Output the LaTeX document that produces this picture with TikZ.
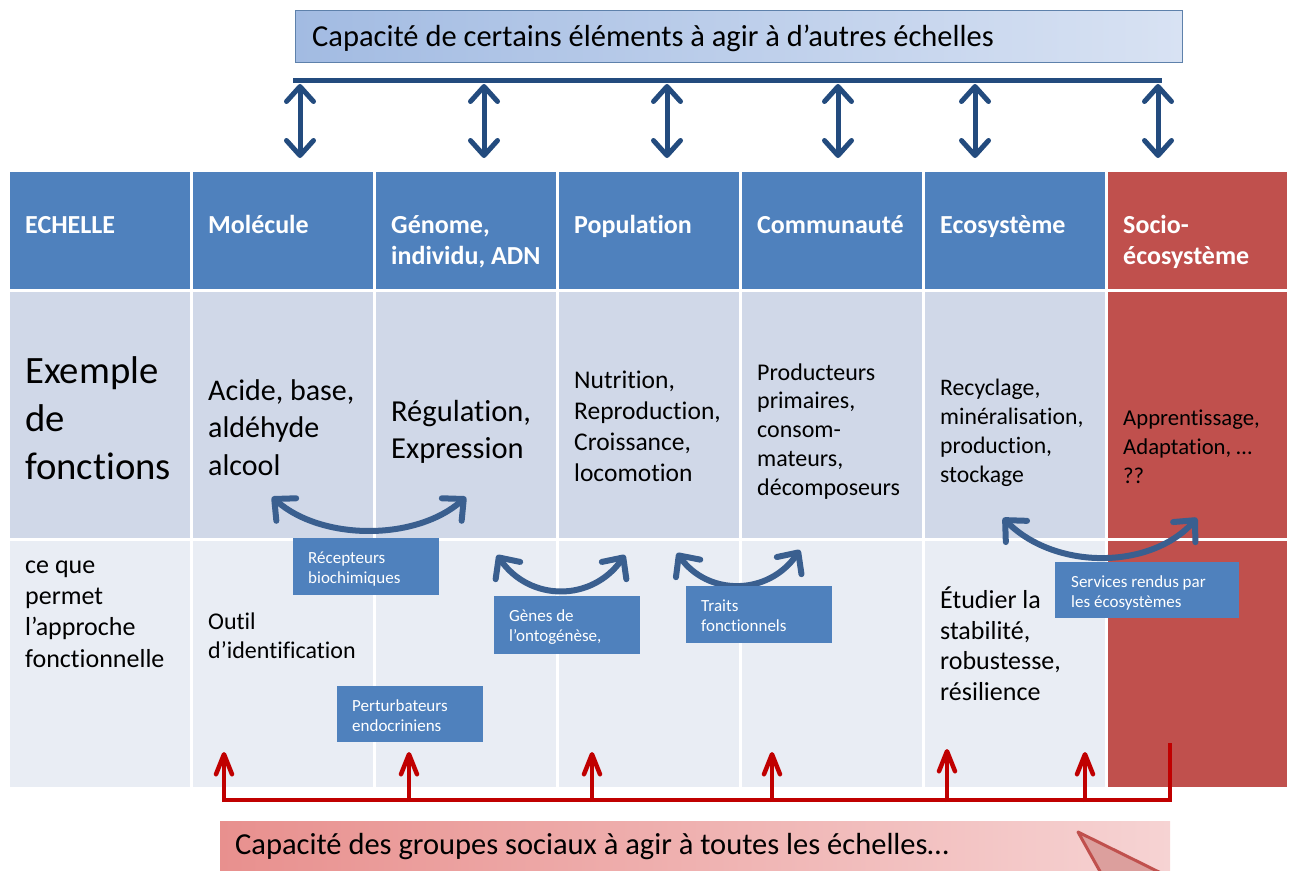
\documentclass[tikz,border=0pt]{standalone}
\usepackage{fontspec}
\setmainfont{Carlito}[Ligatures=NoCommon]
\usetikzlibrary{arrows.meta}
\definecolor{hdr}{HTML}{4F81BD}
\definecolor{rowA}{HTML}{D0D8E8}
\definecolor{rowB}{HTML}{E9EDF4}
\definecolor{socred}{HTML}{C0504D}
\definecolor{navy}{HTML}{234B7E}
\definecolor{curveblue}{HTML}{3A5F8F}
\definecolor{arrred}{HTML}{C00000}
\definecolor{topA}{HTML}{A2BBE2}
\definecolor{topB}{HTML}{D8E2F3}
\definecolor{botA}{HTML}{E8908E}
\definecolor{botB}{HTML}{F6D3D3}
\tikzset{
  htext/.style={anchor=base west, align=left, inner sep=0pt, text=white, font=\fontsize{26}{31}\selectfont\bfseries},
  btext/.style={anchor=base west, align=left, inner sep=0pt, text=black},
  tagbox/.style={fill=hdr, inner sep=0pt, anchor=north west, minimum width=#1, minimum height=57pt},
  tagtext/.style={anchor=base west, align=left, inner sep=0pt, text=white, font=\fontsize{17}{20.5}\selectfont},
  vbar/.style={line width=5pt, draw=navy, {Straight Barb[length=15pt,width=27pt,round]}-{Straight Barb[length=15pt,width=27pt,round]}},
  cbar/.style={line width=6pt, draw=curveblue, {Straight Barb[length=16pt,width=30pt,round]}-{Straight Barb[length=16pt,width=30pt,round]}},
  rbar/.style={line width=4.5pt, draw=arrred, -{Straight Barb[length=20pt,width=16pt,round]}},
}
\begin{document}
\begin{tikzpicture}[x=1pt,y=-1pt]
\useasboundingbox (0,0) rectangle (1295,870);
% top box
\shade[left color=topA, right color=topB, draw=hdr!70!gray, line width=1pt] (295,10) rectangle (1182,62);
\node[anchor=base west, inner sep=0pt, font=\fontsize{30.5}{36}\selectfont] (toptxt) at (312,46) {Capacité de certains éléments à agir à d’autres échelles};
% table columns
\foreach \x in {10,193,376,559,742,925}{
  \fill[hdr] (\x,172) rectangle ++(180,117);
  \fill[rowA] (\x,292) rectangle ++(180,246);
  \fill[rowB] (\x,541) rectangle ++(180,246);
}
\fill[socred] (1108,172) rectangle (1287,289);
\fill[socred] (1108,292) rectangle (1287,538);
\fill[socred] (1108,541) rectangle (1287,787);
% headers (base = baseline of last line)
\node[htext] (h1) at (25,233) {ECHELLE};
\node[htext] (h2) at (208,233) {Molécule};
\node[htext] (h3) at (391,264) {Génome,\\individu, ADN};
\node[htext] (h4) at (574,233) {Population};
\node[htext] (h5) at (757,233) {Communauté};
\node[htext] (h6) at (940,233) {Ecosystème};
\node[htext] (h7) at (1123,264) {Socio-\\écosystème};
% row 2
\node[btext, font=\fontsize{38.7}{48}\selectfont] (r1) at (25,479) {Exemple\\de\\fonctions};
\node[btext, font=\fontsize{30}{37.5}\selectfont] (r2) at (208,475) {Acide, base,\\aldéhyde\\alcool};
\node[btext, font=\fontsize{30.5}{36.5}\selectfont] (r3) at (391,458) {Régulation,\\Expression};
\node[btext, font=\fontsize{25.5}{31}\selectfont] (r4) at (574,481) {Nutrition,\\Reproduction,\\Croissance,\\locomotion};
\node[btext, font=\fontsize{24}{28.75}\selectfont] (r5) at (757,495) {Producteurs\\primaires,\\consom-\\mateurs,\\décomposeurs};
\node[btext, font=\fontsize{23.7}{28.7}\selectfont] (r6) at (940,482) {Recyclage,\\minéralisation,\\production,\\stockage};
\node[btext, font=\fontsize{22.7}{29}\selectfont] (r7) at (1123,483) {Apprentissage,\\Adaptation, …\\??};
% row 3
\node[btext, font=\fontsize{26}{31.3}\selectfont] (s1) at (25,667) {ce que\\permet\\l’approche\\fonctionnelle};
\node[btext, font=\fontsize{24}{29}\selectfont] (s2) at (208,658) {Outil\\d’identification};
\node[btext, font=\fontsize{26}{30.5}\selectfont] (s6) at (940,700) {Étudier la\\stabilité,\\robustesse,\\résilience};
% top connectors
\coordinate (bl) at (293,80);
\coordinate (br) at (1162,80);
\draw[line width=5pt, navy] (bl) -- (br);
\foreach \x [count=\i] in {300,484,667,838,975,1158}{
  \coordinate (ta\i) at (\x,84);
  \coordinate (tb\i) at (\x,158);
  \draw[vbar] (ta\i) -- (tb\i);
}
% curved arrows
\coordinate (c1a) at (272,497); \coordinate (c1b) at (466,497);
\coordinate (c2a) at (497,555); \coordinate (c2b) at (625,555);
\coordinate (c3a) at (677,553); \coordinate (c3b) at (800,550);
\coordinate (c4a) at (1003,518); \coordinate (c4b) at (1197,518);
\draw[cbar] (c1a) .. controls (322,541) and (416,541) .. (c1b);
\draw[cbar] (c2a) .. controls (530,602) and (592,602) .. (c2b);
\draw[cbar] (c3a) .. controls (708,596) and (768,596) .. (c3b);
\draw[cbar] (c4a) .. controls (1055,570) and (1150,570) .. (c4b);
% tags
\node[tagbox=146pt] (t1) at (293,538) {};
\node[tagtext] (t1txt) at ([xshift=15pt,yshift=-45.5pt]t1.north west) {Récepteurs\\biochimiques};
\node[tagbox=146pt, minimum height=58pt] (t2) at (494,596) {};
\node[tagtext] (t2txt) at ([xshift=15pt,yshift=-45.5pt]t2.north west) {Gènes de\\l’ontogénèse,};
\node[tagbox=146pt] (t3) at (686,586) {};
\node[tagtext] (t3txt) at ([xshift=15pt,yshift=-45.5pt]t3.north west) {Traits\\fonctionnels};
\node[tagbox=146pt, minimum height=56pt] (t4) at (337,686) {};
\node[tagtext] (t4txt) at ([xshift=15pt,yshift=-45.5pt]t4.north west) {Perturbateurs\\endocriniens};
\node[tagbox=184pt, minimum height=56pt] (t5) at (1055,562) {};
\node[tagtext] (t5txt) at ([xshift=16pt,yshift=-45.5pt]t5.north west) {Services rendus par\\les écosystèmes};
% bottom red connectors
\coordinate (rl) at (224,800);
\coordinate (rr) at (1170,800);
\coordinate (rtop) at (1170,743);
\draw[line width=4.5pt, arrred, line join=miter] (rl) -- (rr) -- (rtop);
\foreach \x/\t [count=\i] in {224/752,409/752,592/752,772/752,947/749,1085/752}{
  \coordinate (ra\i) at (\x,802);
  \coordinate (rb\i) at (\x,\t);
  \draw[rbar] (ra\i) -- (rb\i);
}
% bottom box
\begin{scope}
\clip (0,0) rectangle (1295,870);
\shade[left color=botA, right color=botB] (220,821) rectangle (1170,875);
\filldraw[fill=socred!55!white, draw=socred, line width=3pt, line join=round] (1078,832) -- (1165,875) -- (1102,875) -- cycle;
\end{scope}
\node[anchor=base west, inner sep=0pt, font=\fontsize{30.5}{36}\selectfont] (bottxt) at (235,854) {Capacité des groupes sociaux à agir à toutes les échelles…};
\end{tikzpicture}
\end{document}
